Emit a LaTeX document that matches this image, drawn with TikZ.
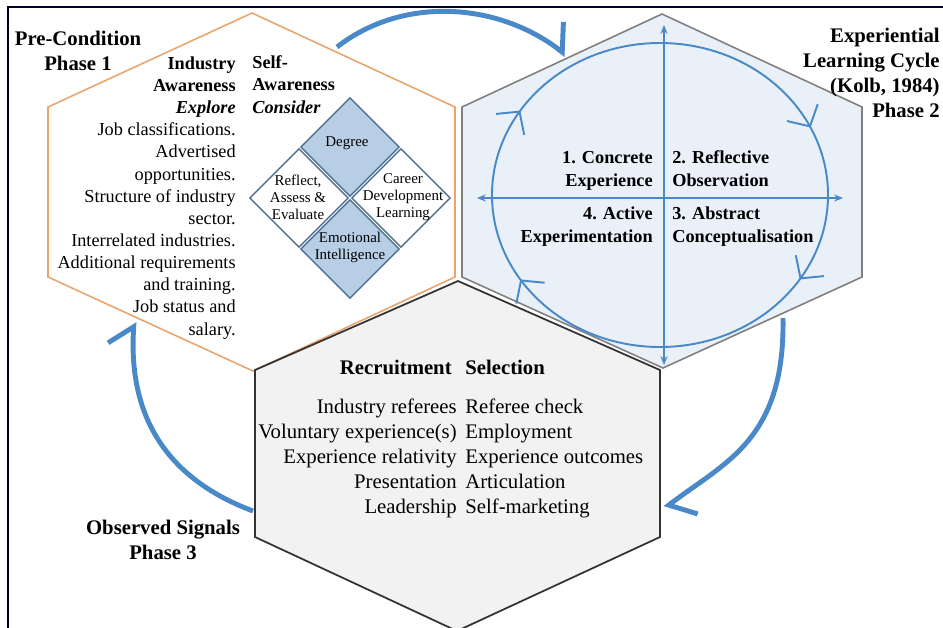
\documentclass[tikz,border=0pt]{standalone}
\usepackage{fontspec}
\setmainfont{Liberation Serif}
\usetikzlibrary{arrows.meta,shapes.geometric,decorations.markings}

\definecolor{cyclebl}{RGB}{74,137,200}
\definecolor{hexorange}{RGB}{232,165,110}
\definecolor{hexblue}{RGB}{233,240,248}
\definecolor{hexgrey}{RGB}{242,242,242}
\definecolor{cellbl}{RGB}{184,206,229}
\definecolor{celledge}{RGB}{80,112,145}

\begin{document}
\begin{tikzpicture}[x=0.02cm, y=-0.02cm]
   \tikzstyle{phase}=[font=\bfseries\fontsize{11.8}{14.2}\selectfont, align=center, inner sep=0pt]
   \tikzstyle{body}=[font=\fontsize{10.4}{12.6}\selectfont, inner sep=0pt]
   \tikzstyle{quad}=[font=\bfseries\fontsize{10.4}{12.9}\selectfont, inner sep=0pt]
   \tikzstyle{recruit}=[font=\fontsize{11.8}{14.2}\selectfont, inner sep=0pt]
   \tikzstyle{cell}=[draw=celledge, line width=0.8pt, shape=diamond, minimum width=1.98cm, minimum height=1.98cm, inner sep=0pt]
   \tikzstyle{celltext}=[font=\fontsize{8.5}{9.6}\selectfont, align=center, inner sep=0pt]
   \tikzstyle{bigarrow}=[draw=cyclebl, line width=2.8pt, -{Straight Barb[harpoon, length=10pt, width=28pt]}]
   \tikzstyle{axis}=[draw=cyclebl, line width=1pt, {Stealth[length=5pt,width=4pt]}-{Stealth[length=5pt,width=4pt]}]
   \tikzstyle{cycleline}=[draw=cyclebl, line width=1.1pt, postaction={decorate},
      decoration={markings,
         mark=at position 0.09 with {\arrow{Straight Barb[length=9pt,width=20pt]}},
         mark=at position 0.41 with {\arrow{Straight Barb[length=9pt,width=20pt]}},
         mark=at position 0.59 with {\arrow{Straight Barb[length=9pt,width=20pt]}},
         mark=at position 0.93 with {\arrow{Straight Barb[length=9pt,width=20pt]}}}]

\useasboundingbox (0,0) rectangle (943,627);
\clip (0,0) rectangle (943,627);
\draw[line width=1.2pt, draw=black!85!blue] (8,700) -- (8,7) -- (1000,7);

% the three phases
\draw[draw=hexorange, line width=0.9pt, fill=white] (252,13) -- (455,107) -- (455,277) -- (253,371) -- (48,277) -- (48,107) -- cycle;
\draw[draw=gray, line width=0.9pt, fill=hexblue] (662,14) -- (862,107) -- (862,277) -- (663,368) -- (462,277) -- (462,107) -- cycle;
\draw[draw=black!80, line width=1pt, fill=hexgrey] (458,281) -- (660,370) -- (660,537) -- (457,631) -- (255,537) -- (255,370) -- cycle;

% labels sit on the baseline of their last line
\node[phase, anchor=base] (ph1) at (78,70) {Pre-Condition\\Phase 1};
\node[phase, anchor=base east, align=right] (ph2) at (940,117) {Experiential\\Learning Cycle\\(Kolb, 1984)\\Phase 2};
\node[phase, anchor=base] (ph3) at (163,559) {Observed Signals\\Phase 3};

% phase 1
\node[body, anchor=base east, align=right] (industry) at (236,335) {\textbf{Industry}\\\textbf{Awareness}\\\textbf{\textit{Explore}}\\Job classifications.\\Advertised\\opportunities.\\Structure of industry\\sector.\\Interrelated industries.\\Additional requirements\\and training.\\Job status and\\salary.};
\node[body, anchor=base west, align=left] (self) at (252,113) {\textbf{Self-}\\\textbf{Awareness}\\\textbf{\textit{Consider}}};

\node[cell, fill=cellbl] (degree) at (350,147) {};
\node[cell, fill=white] (reflect) at (299,198) {};
\node[cell, fill=white] (career) at (401,198) {};
\node[cell, fill=cellbl] (emotion) at (350,249) {};
\node[celltext] (degreet) at (347,143) {Degree};
\node[celltext] (reflectt) at (298,197) {Reflect,\\Assess \&\\Evaluate};
\node[celltext] (careert) at (403,197) {Career\\Development\\Learning};
\node[celltext] (emotiont) at (350,247) {Emotional\\Intelligence};

% phase 2
\draw[cycleline] (828,195) arc[start angle=0, end angle=360, x radius=168, y radius=152];
\coordinate (west) at (477,198);
\coordinate (east) at (843,198);
\coordinate (north) at (664,25);
\coordinate (south) at (664,365);
\draw[axis] (west) -- (east);
\draw[axis] (north) -- (south);

\node[quad, anchor=base east, align=right] (ce) at (653,186) {1. Concrete\\Experience};
\node[quad, anchor=base west, align=left] (ro) at (672,186) {2. Reflective\\Observation};
\node[quad, anchor=base east, align=right] (ae) at (653,242) {4. Active\\Experimentation};
\node[quad, anchor=base west, align=left] (ac) at (672,242) {3. Abstract\\Conceptualisation};

% phase 3
\node[recruit, anchor=base east] (rec) at (452,374) {\textbf{Recruitment}};
\node[recruit, anchor=base west] (sel) at (465,374) {\textbf{Selection}};
\node[recruit, anchor=base east, align=right] (recl) at (457,513) {Industry referees\\Voluntary experience(s)\\Experience relativity\\Presentation\\Leadership};
\node[recruit, anchor=base west, align=left] (sell) at (465,513) {Referee check\\Employment\\Experience outcomes\\Articulation\\Self-marketing};

% moving between phases
\coordinate (a1s) at (337,47);
\coordinate (a1e) at (566,55);
\coordinate (a2s) at (783,318);
\coordinate (a2e) at (665,508);
\coordinate (a3s) at (253,511);
\coordinate (a3e) at (134,322);
\draw[bigarrow] (a1s) .. controls (404,-5) and (499,3) .. (a1e);
\draw[bigarrow] (a2s) .. controls (785,440) and (725,462) .. (a2e);
\draw[bigarrow] (a3s) .. controls (170,480) and (128,420) .. (a3e);

\end{tikzpicture}
\end{document}
